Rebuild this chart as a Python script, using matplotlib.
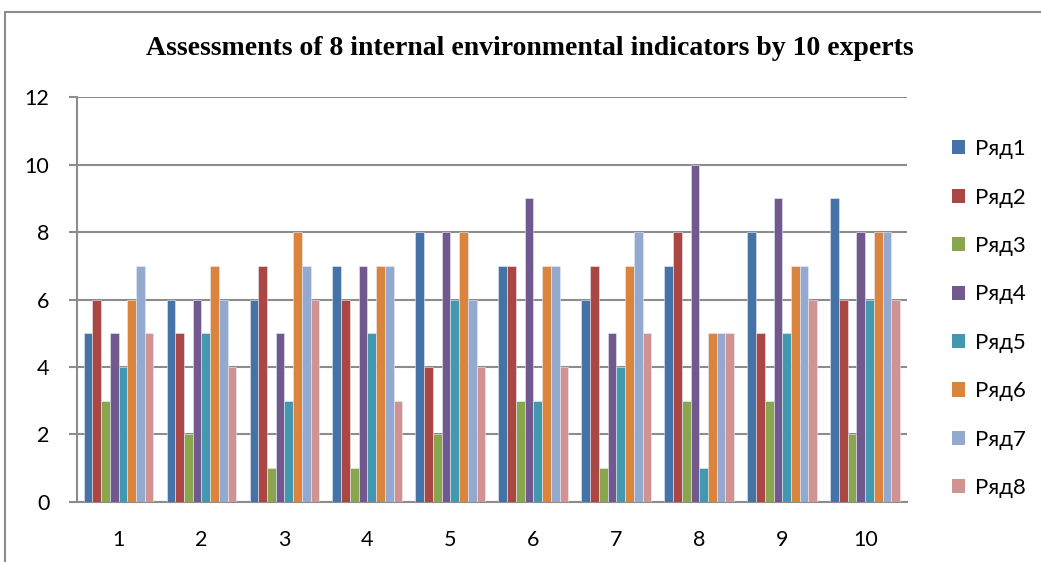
import numpy as np
import matplotlib.pyplot as plt
from matplotlib.patches import Rectangle, Patch

# experts 1..10
experts = ["1", "2", "3", "4", "5", "6", "7", "8", "9", "10"]
series_names = ["Ряд1", "Ряд2", "Ряд3", "Ряд4", "Ряд5", "Ряд6", "Ряд7", "Ряд8"]

row1 = [5, 6, 6, 7, 8, 7, 6, 7, 8, 9]
row2 = [6, 5, 7, 6, 4, 7, 7, 8, 5, 6]
row3 = [3, 2, 1, 1, 2, 3, 1, 3, 3, 2]
row4 = [5, 6, 5, 7, 8, 9, 5, 10, 9, 8]
row5 = [4, 5, 3, 5, 6, 3, 4, 1, 5, 6]
row6 = [6, 7, 8, 7, 8, 7, 7, 5, 7, 8]
row7 = [7, 6, 7, 7, 6, 7, 8, 5, 7, 8]
row8 = [5, 4, 6, 3, 4, 4, 5, 5, 6, 6]
rows = [row1, row2, row3, row4, row5, row6, row7, row8]

colors = ["#4572A7", "#AA4643", "#89A54E", "#71588F",
          "#4198AF", "#DB843D", "#93A9CF", "#D19392"]

fig = plt.figure(figsize=(10.41, 5.62), dpi=100)
ax = fig.add_axes([0.074, 0.107, 0.797, 0.720])

# outer chart border (partly cropped in the reference)
fig.patches.append(Rectangle((5 / 1041, -0.1), 1.2, 1 - 12 / 562 + 0.1,
                             transform=fig.transFigure, fill=False,
                             edgecolor="#8c8c8c", linewidth=1.5))

x = np.arange(len(experts))
w = 1 / 9.5
for i, vals in enumerate(rows):
    ax.bar(x + (i - 3.5) * w, vals, width=w, color=colors[i],
           edgecolor="#e8ecf4", linewidth=0.4, label=series_names[i], zorder=3)

ax.set_xlim(-0.5, 9.5)
ax.set_ylim(0, 12)
ax.set_yticks(range(0, 13, 2))
ax.set_xticks(x)
ax.set_xticklabels(experts)
ax.yaxis.grid(True, color="#8c8c8c", linewidth=1.5, zorder=0)
for s in ["top", "right"]:
    ax.spines[s].set_visible(False)
ax.spines["left"].set_color("#8c8c8c")
ax.spines["left"].set_linewidth(1.5)
ax.spines["bottom"].set_color("#8c8c8c")
ax.spines["bottom"].set_linewidth(1.5)
ax.tick_params(axis="y", length=6, width=1.5, color="#8c8c8c", pad=14,
               labelsize=15.5)
ax.tick_params(axis="x", length=0, pad=20, labelsize=15.5)
for t in ax.get_xticklabels() + ax.get_yticklabels():
    t.set_fontfamily("Lato")

fig.text(0.509, 0.913, "Assessments of 8 internal environmental indicators by 10 experts",
         ha="center", va="center", fontsize=20, fontweight="bold",
         family="Liberation Serif")

handles = [Patch(facecolor=c, edgecolor="none") for c in colors]
leg = fig.legend(handles, series_names, loc="center left",
                 bbox_to_anchor=(0.895, 0.433), frameon=False,
                 handlelength=0.6, handleheight=0.6, handletextpad=0.45,
                 labelspacing=1.28, prop={"family": "Lato", "size": 16})

fig.savefig("out.png", dpi=100)
